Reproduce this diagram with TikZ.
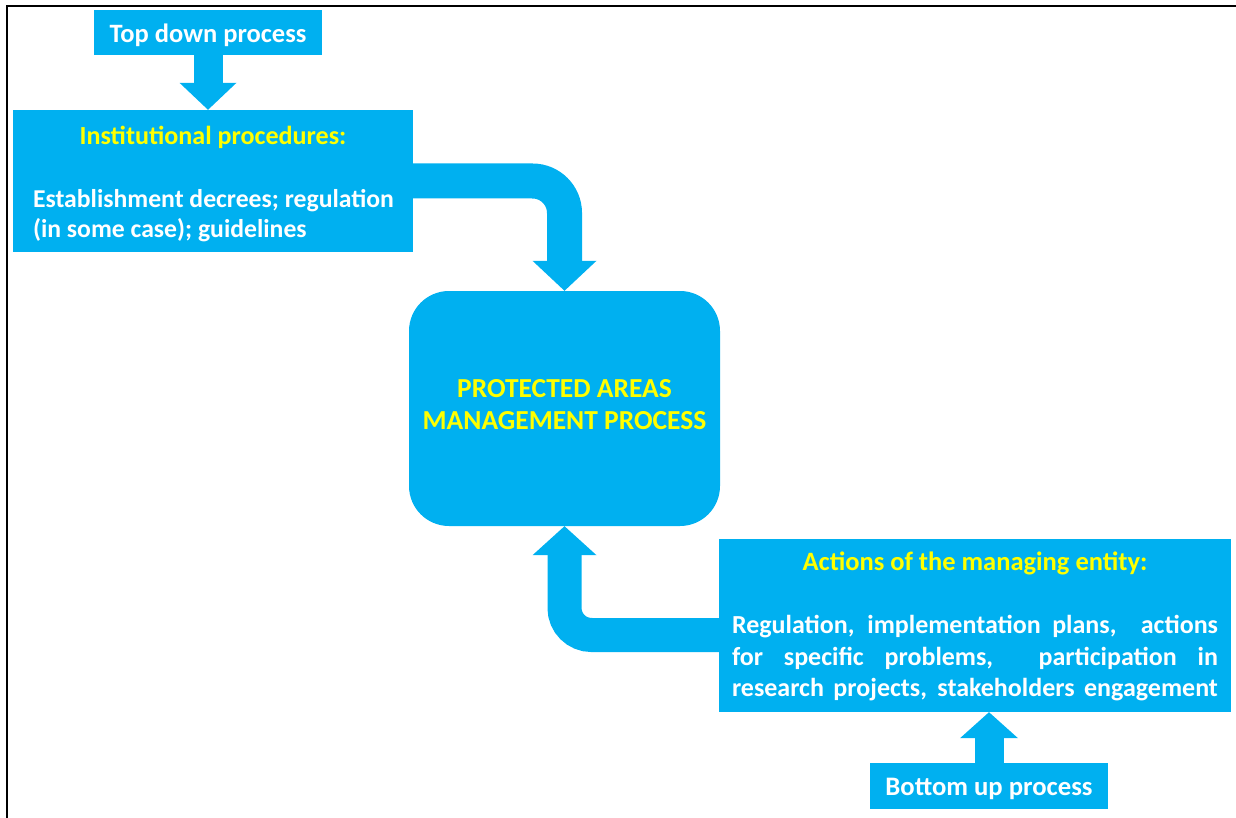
\documentclass[tikz,border=0pt]{standalone}
\usepackage{fontspec}
\setmainfont{Carlito}
\usetikzlibrary{arrows.meta}
\definecolor{pblue}{RGB}{0,176,240}
\definecolor{pyellow}{RGB}{255,255,0}
\newcommand{\shiftdown}[2]{\raisebox{-#1}[\height][\depth]{#2}}
\begin{document}
\begin{tikzpicture}[x=1pt,y=-1pt,
  box/.style={fill=pblue, draw=none, inner sep=0pt, text=white, align=center,
    font=\bfseries\fontsize{25}{31}\selectfont},
  barrow/.style={draw=pblue, line width=#1pt},
  btip/.style n args={2}{-{Triangle[width=#1pt 0 0, length=#2pt 0 0, line width=0pt, color=pblue]}},
  frameline/.style={draw=black, line width=2.2pt}
]
\useasboundingbox (0,0) rectangle (1236,818);
\draw[frameline] (7,818) -- (7,6) -- (1236,6);

\node[box, minimum width=228pt, minimum height=45pt, font=\bfseries\fontsize{26.5}{31}\selectfont]
  (top) at (208,32.5) {\shiftdown{3pt}{Top down process}};

\node[box, minimum width=400pt, minimum height=142pt, font=\bfseries\fontsize{25.7}{30.5}\selectfont]
  (inst) at (213,181)
  {\shiftdown{4pt}{\begin{tabular}{@{}c@{}}
   {\fontsize{26.1}{30.5}\selectfont\color{pyellow}Institutional procedures:}\\[32pt]
   \makebox[360pt][l]{Establishment decrees; regulation}\\
   \makebox[360pt][l]{(in some case); guidelines}\end{tabular}}};

\node[box, rounded corners=40pt, minimum width=311pt, minimum height=235pt,
  font=\bfseries\fontsize{27.5}{32}\selectfont, text=pyellow] (pam) at (564.5,408.5)
  {\shiftdown{-1pt}{\begin{tabular}{@{}c@{}}PROTECTED AREAS\\MANAGEMENT PROCESS\end{tabular}}};

\node[box, minimum width=512pt, minimum height=173pt,
  font=\bfseries\fontsize{26}{31.5}\selectfont] (act) at (975,625.5)
  {\shiftdown{2pt}{\begin{tabular}{@{}c@{}}
   {\fontsize{26.5}{31.5}\selectfont\color{pyellow}Actions of the managing entity:}\\[31.5pt]
   \makebox[486pt][s]{Regulation, implementation plans, \ actions}\\
   \makebox[486pt][s]{for specific problems, \ participation in}\\
   \makebox[486pt][s]{research projects, stakeholders engagement}\end{tabular}}};

\node[box, minimum width=238pt, minimum height=46pt, font=\bfseries\fontsize{26.7}{31}\selectfont]
  (bot) at (989,786) {\shiftdown{3pt}{Bottom up process}};

% connectors
\draw[barrow=29, btip={57}{27}] (top.south) -- (top.south |- inst.north);
\draw[barrow=35, btip={64}{30}, rounded corners=32pt] (inst.east) -| (pam.north);
\draw[barrow=34, btip={64}{29}, rounded corners=27pt] ([yshift=-9.5pt]act.west) -| (pam.south);
\draw[barrow=29, btip={58}{26}] (bot.north) -- (bot.north |- act.south);
\end{tikzpicture}
\end{document}
